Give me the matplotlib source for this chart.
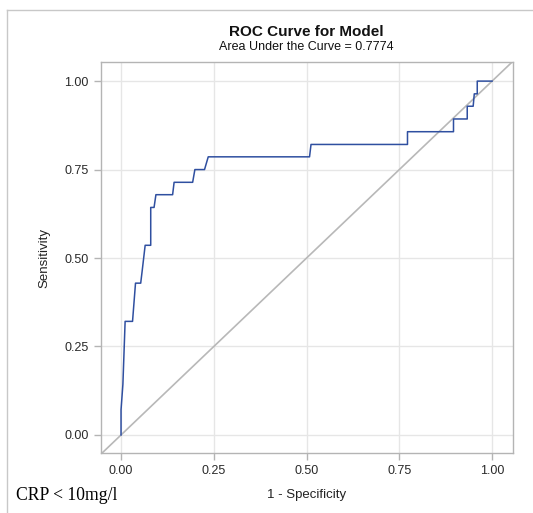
import numpy as np
import matplotlib
matplotlib.use("Agg")
import matplotlib.pyplot as plt
from matplotlib.lines import Line2D

# ROC points (1 - specificity, sensitivity)
fpr = [0, 0, 0.005, 0.011, 0.031, 0.039, 0.053, 0.057, 0.061, 0.065, 0.080, 0.080,
       0.089, 0.094, 0.139, 0.143, 0.193, 0.199, 0.225, 0.235, 0.508, 0.512, 0.772,
       0.772, 0.896, 0.896, 0.933, 0.933, 0.949, 0.952, 0.960, 0.960, 1.0]
tpr = [0, 0.071, 0.143, 0.321, 0.321, 0.429, 0.429, 0.464, 0.500, 0.536, 0.536, 0.643,
       0.643, 0.679, 0.679, 0.714, 0.714, 0.750, 0.750, 0.786, 0.786, 0.821, 0.821,
       0.857, 0.857, 0.893, 0.893, 0.929, 0.929, 0.964, 0.964, 1.0, 1.0]
ticks = [0.0, 0.25, 0.5, 0.75, 1.0]
tick_labels = ["0.00", "0.25", "0.50", "0.75", "1.00"]
auc = 0.7774

plt.rcParams['font.family'] = ['Liberation Sans', 'DejaVu Sans']

fig = plt.figure(figsize=(5.33, 5.13), dpi=100)
ax = fig.add_axes([101/533, 1 - 453/513, (512.5 - 101)/533, (453 - 62)/513])

grid_c = '#e6e6e6'
frame_c = '#b4b4b4'
text_c = '#2a2a2a'

ax.set_xlim(-0.054, 1.055)
ax.set_ylim(-0.051, 1.054)
ax.set_xticks(ticks)
ax.set_xticklabels(tick_labels)
ax.set_yticks(ticks)
ax.set_yticklabels(tick_labels)
ax.grid(True, color=grid_c, linewidth=1.0)
ax.set_axisbelow(True)

ax.axline((0, 0), (1, 1), color='#b8b8b8', linewidth=1.2, zorder=2)
ax.plot(fpr, tpr, color='#2f4fa0', linewidth=1.1, zorder=3)

for s in ax.spines.values():
    s.set_color(frame_c)
    s.set_linewidth(1.0)
ax.tick_params(direction='out', length=5, width=1, color=frame_c,
               labelcolor=text_c, labelsize=9, pad=4)

ax.set_xlabel("1 - Specificity", fontsize=9.5, color='#222222', labelpad=8)
ax.set_ylabel("Sensitivity", fontsize=9.5, color='#222222', labelpad=10)

cx = (101 + 512.5) / 2 / 533
fig.text(cx, 1 - 31.5/513, "ROC Curve for Model", ha='center', va='center',
         fontsize=11, fontweight='bold', color='#111111')
fig.text(cx, 1 - 47/513, "Area Under the Curve = %.4f" % auc, ha='center',
         va='center', fontsize=9, color='#111111')

fig.text(16/533, 1 - 495/513, "CRP < 10mg/l", ha='left', va='center',
         fontsize=12.7, family=['Liberation Serif', 'DejaVu Serif'], color='black')

# outer frame (left and top edges visible in the reference)
fig.add_artist(Line2D([7/533, 7/533], [0, 1 - 10/513], transform=fig.transFigure,
                      color='#c8c8c8', linewidth=1.0))
fig.add_artist(Line2D([7/533, 1], [1 - 10/513, 1 - 10/513], transform=fig.transFigure,
                      color='#c8c8c8', linewidth=1.0))

fig.savefig("out.png", dpi=100, facecolor='white')
